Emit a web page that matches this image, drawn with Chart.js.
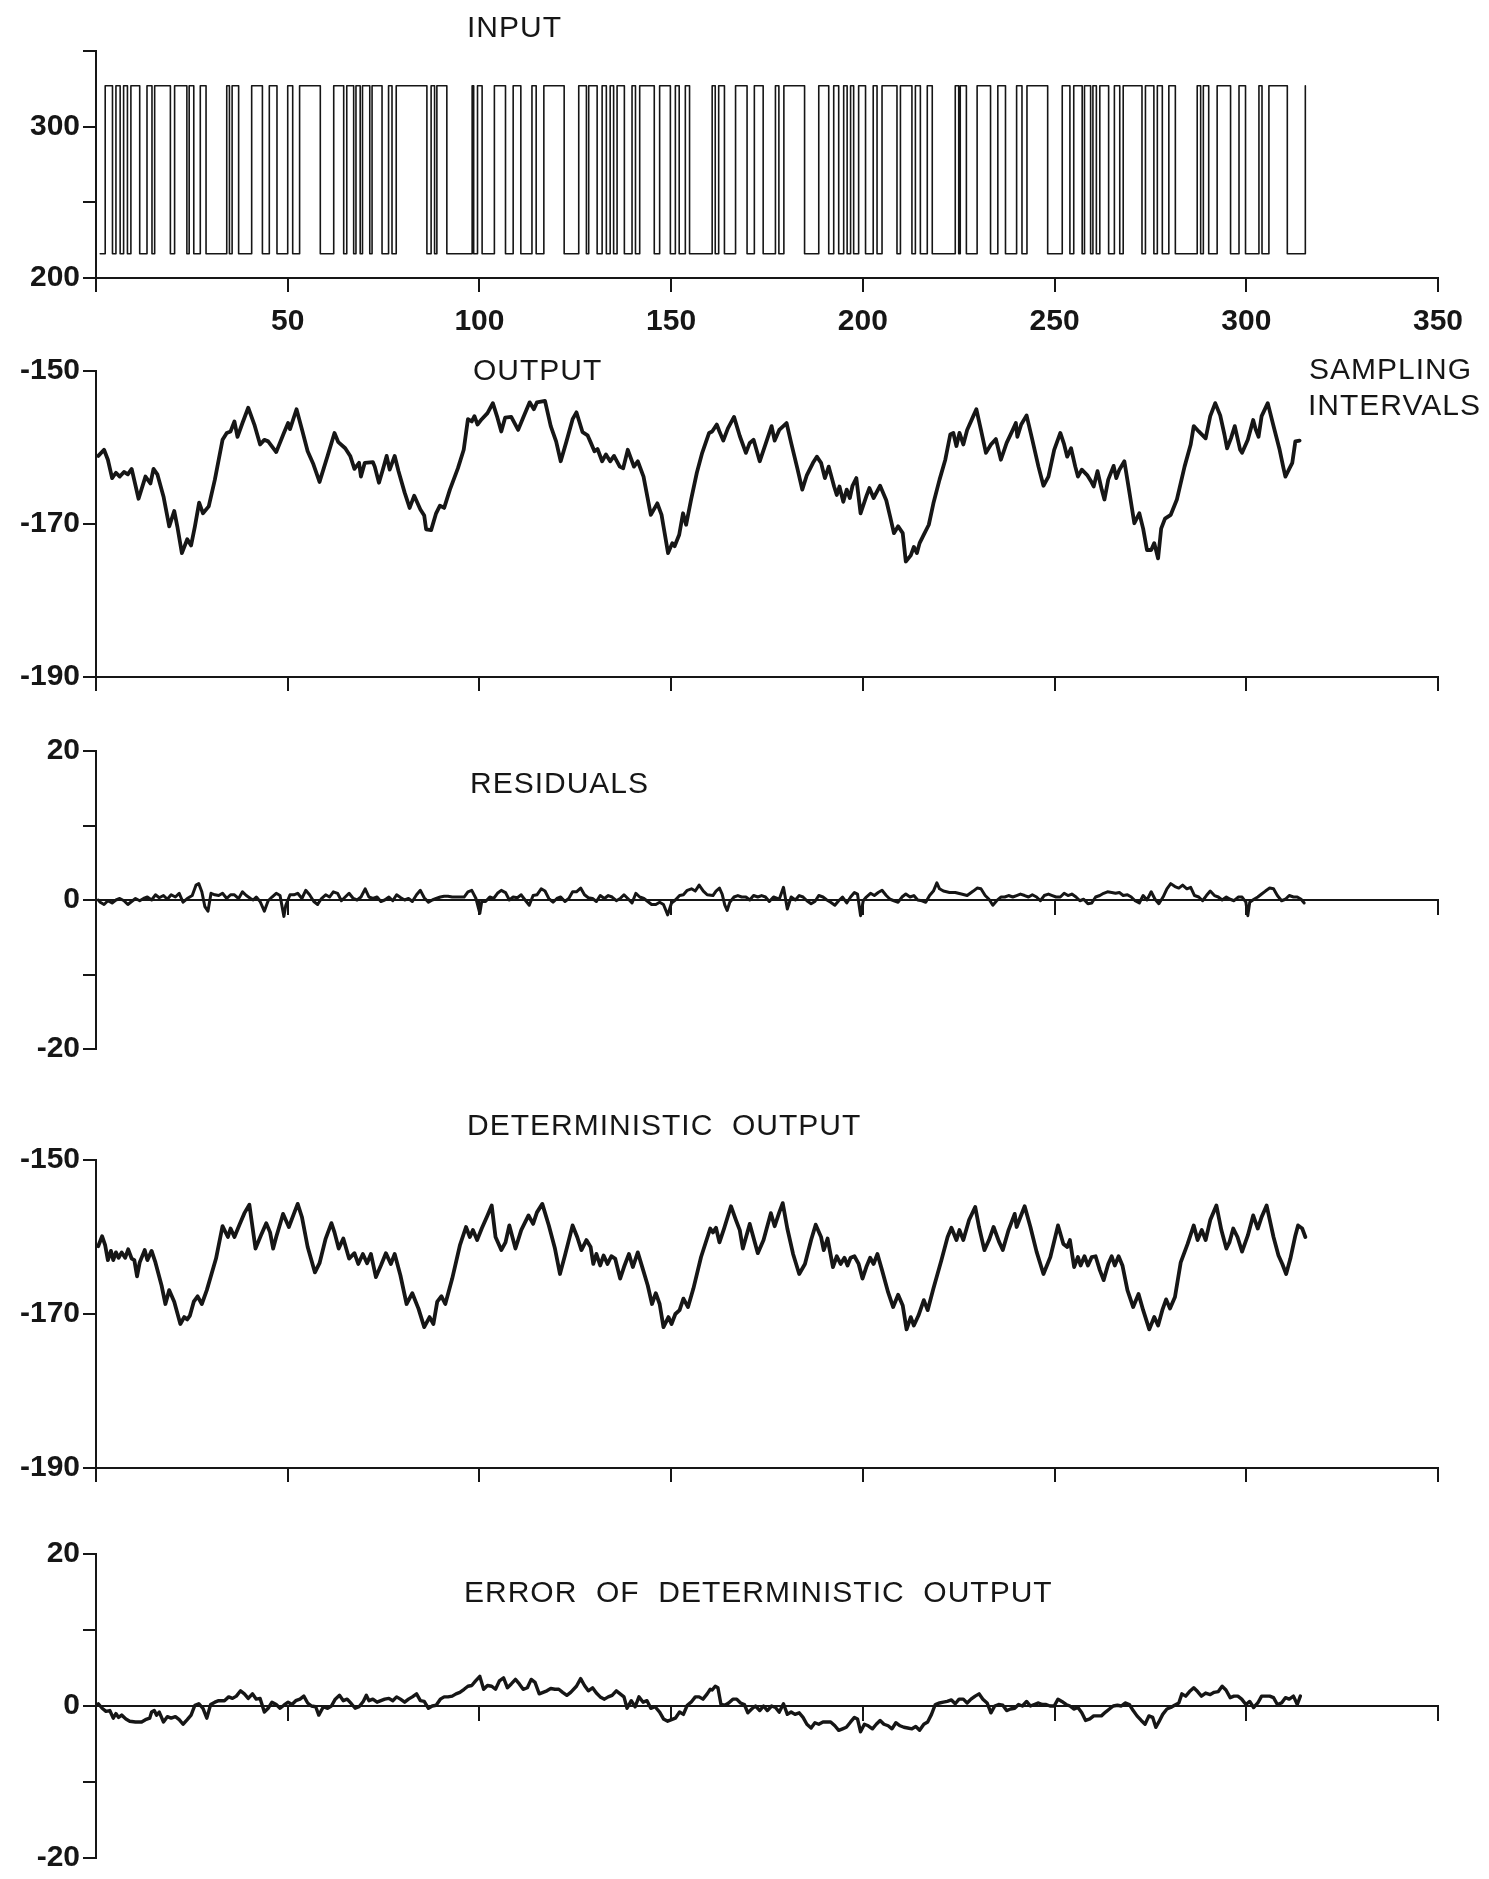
<!DOCTYPE html>
<html>
<head>
<meta charset="utf-8">
<script src="https://cdn.jsdelivr.net/npm/chart.js@4.4.1/dist/chart.umd.min.js"></script>
<style>
  html, body { margin: 0; padding: 0; background: #ffffff; }
  #page { position: relative; width: 1489px; height: 1879px; overflow: hidden;
          font-family: "Liberation Sans", Arial, sans-serif; color: #161616; }
  #page canvas { position: absolute; left: 0; }
  .lbl { position: absolute; font-size: 30px; line-height: 1; letter-spacing: 1px; white-space: pre; }
</style>
</head>
<body>
<div id="page">
  <canvas id="cInput"  width="1489" height="340" style="top:0px"></canvas>
  <canvas id="cOutput" width="1489" height="360" style="top:340px"></canvas>
  <canvas id="cResid"  width="1489" height="370" style="top:700px"></canvas>
  <canvas id="cDet"    width="1489" height="420" style="top:1070px"></canvas>
  <canvas id="cError"  width="1489" height="389" style="top:1490px"></canvas>

  <div class="lbl" style="left:467px; top:12px">INPUT</div>
  <div class="lbl" style="left:473px; top:355px">OUTPUT</div>
  <div class="lbl" style="left:1309px; top:354px">SAMPLING</div>
  <div class="lbl" style="left:1308px; top:390px">INTERVALS</div>
  <div class="lbl" style="left:470px; top:768px">RESIDUALS</div>
  <div class="lbl" style="left:467px; top:1110px">DETERMINISTIC  OUTPUT</div>
  <div class="lbl" style="left:464px; top:1577px">ERROR  OF  DETERMINISTIC  OUTPUT</div>
</div>

<script>
// ---- shared time axis (sampling intervals) ----
const xTickLabels = [50, 100, 150, 200, 250, 300, 350];

// ---- input: two-level test signal, switching times in sampling intervals ----
const inputLow = 216;
const inputHigh = 327;
// first entry starts the signal at the low level; each later entry flips the level
const inputSwitchTimes = [
  1.1, 2.4, 4.3, 5.2, 6.3, 7.2, 8.2, 9.1, 11.4, 13.3, 14.6, 15.3, 19.4, 20.5, 23.7, 24.3,
  25.5, 27.2, 28.7, 34.1, 34.8, 35.5, 37.2, 40.6, 43.4, 45.2, 47.2, 50.0, 51.3, 53.1, 58.5,
  62.0, 64.6, 65.4, 67.2, 67.8, 68.9, 69.5, 71.4, 72.0, 74.6, 76.3, 77.2, 78.3, 86.3, 87.4,
  88.3, 88.9, 91.5, 98.1, 98.5, 99.5, 100.7, 103.9, 106.8, 108.8, 110.8, 113.7, 114.8, 116.8,
  122.1, 125.9, 127.9, 128.5, 130.7, 132.0, 133.1, 134.1, 135.0, 135.9, 137.8, 139.8, 140.7,
  141.8, 145.6, 147.0, 149.8, 151.1, 152.1, 153.7, 154.8, 160.7, 161.5, 162.4, 163.9, 166.8,
  169.8, 171.7, 174.0, 177.2, 178.1, 179.4, 184.8, 188.5, 191.1, 192.4, 193.7, 195.0, 195.9,
  196.8, 197.6, 198.9, 200.7, 202.7, 203.7, 205.0, 208.9, 209.8, 212.8, 213.7, 215.0, 216.8,
  218.1, 224.1, 225.0, 225.4, 227.0, 229.8, 233.3, 235.2, 237.2, 240.1, 241.5, 242.8, 248.2,
  252.0, 254.0, 255.0, 257.2, 257.8, 259.4, 260.0, 260.9, 261.8, 264.1, 265.6, 267.0, 267.9,
  272.8, 273.7, 275.9, 276.8, 278.1, 279.8, 281.5, 287.2, 288.1, 288.8, 290.2, 292.4, 295.9,
  298.1, 299.8, 303.3, 304.1, 305.9, 310.7, 315.4
];

// ---- measured output [interval, value] ----
const outputSeries = [
  [0.6,-161.1],[2.1,-160.3],[3.1,-161.6],[4.2,-164.0],[5.2,-163.3],[6.2,-163.8],[7.3,-163.2],[8.3,-163.5],
  [9.3,-162.8],[11.1,-166.7],[12.9,-163.8],[14.2,-164.7],[15.0,-162.8],[16.0,-163.5],[17.6,-166.4],
  [19.1,-170.3],[20.4,-168.3],[21.2,-170.3],[22.4,-173.8],[23.8,-172.0],[24.8,-172.8],[25.8,-170.3],
  [26.9,-167.2],[27.9,-168.6],[29.4,-167.7],[31.0,-164.2],[33.0,-159.0],[34.1,-158.1],[35.1,-157.9],
  [36.1,-156.6],[36.9,-158.6],[38.2,-156.8],[39.7,-154.8],[41.3,-157.0],[42.8,-159.6],[43.9,-159.0],
  [44.9,-159.2],[47.0,-160.6],[49.0,-158.1],[50.1,-156.8],[50.6,-157.6],[52.3,-155.0],[53.7,-157.6],
  [55.2,-160.5],[56.7,-162.2],[58.3,-164.5],[60.4,-161.1],[62.2,-158.1],[63.2,-159.3],[65.0,-160.1],
  [66.3,-161.1],[67.4,-162.8],[68.6,-162.0],[69.1,-163.8],[70.1,-162.0],[72.2,-161.9],[72.7,-162.5],
  [73.8,-164.6],[74.8,-162.9],[75.8,-161.1],[76.6,-162.9],[77.9,-161.1],[78.9,-163.1],[80.5,-165.9],
  [81.8,-167.9],[83.0,-166.3],[84.6,-168.1],[85.6,-168.9],[86.1,-170.7],[87.4,-170.8],[88.7,-168.6],
  [89.7,-167.6],[90.8,-167.9],[92.3,-165.5],[94.4,-162.7],[95.9,-160.3],[97.0,-156.3],[98.0,-156.6],
  [98.7,-155.9],[99.5,-157.0],[100.6,-156.3],[102.1,-155.5],[103.5,-154.2],[104.7,-156.1],[105.7,-157.9],
  [106.7,-156.1],[108.3,-156.0],[110.1,-157.7],[111.4,-156.1],[113.1,-154.1],[114.2,-155.0],[115.0,-154.1],
  [117.1,-153.9],[118.6,-157.2],[120.0,-159.2],[121.2,-161.8],[122.7,-159.2],[124.3,-156.3],[125.3,-155.4],
  [126.9,-158.0],[128.2,-158.4],[128.9,-159.2],[130.0,-160.5],[130.8,-160.2],[132.0,-161.8],[133.0,-160.9],
  [134.1,-161.8],[135.1,-161.1],[136.6,-162.5],[137.5,-162.7],[138.7,-160.3],[140.3,-162.5],[141.3,-161.8],
  [142.8,-163.8],[144.7,-168.8],[146.4,-167.3],[147.5,-168.8],[148.0,-170.3],[149.2,-173.8],[150.3,-172.5],
  [150.9,-172.9],[152.1,-171.4],[153.1,-168.6],[153.9,-170.1],[155.2,-166.8],[156.7,-163.3],[158.1,-160.7],
  [159.9,-158.1],[160.7,-157.9],[161.9,-157.0],[162.6,-157.9],[163.6,-159.1],[164.8,-157.5],[166.4,-156.0],
  [167.9,-158.5],[169.5,-160.7],[170.5,-159.4],[171.5,-159.0],[173.1,-161.8],[174.6,-159.6],[176.2,-157.2],
  [177.0,-159.1],[178.2,-157.7],[180.1,-156.8],[181.3,-159.4],[182.9,-162.7],[184.2,-165.5],[185.4,-163.6],
  [187.0,-162.0],[188.0,-161.2],[189.1,-162.0],[190.1,-164.0],[191.1,-162.5],[192.5,-165.1],[193.2,-166.2],
  [193.9,-165.1],[194.9,-167.1],[195.8,-165.5],[196.6,-166.6],[197.3,-165.0],[198.3,-164.0],[199.4,-168.6],
  [200.9,-166.4],[201.7,-165.3],[202.8,-166.6],[204.5,-165.0],[206.1,-166.9],[207.1,-169.0],[208.1,-171.2],
  [209.2,-170.3],[210.4,-171.2],[211.2,-174.9],[212.5,-174.1],[213.3,-173.0],[214.1,-173.8],[214.8,-172.5],
  [215.9,-171.4],[217.2,-170.1],[218.4,-167.3],[220.0,-164.2],[221.5,-161.6],[222.8,-158.3],[223.6,-158.1],
  [224.4,-159.8],[225.2,-158.1],[226.2,-159.6],[227.2,-157.7],[228.8,-155.9],[229.6,-155.0],[230.8,-157.7],
  [232.1,-160.7],[233.4,-159.6],[234.7,-158.9],[236.0,-161.6],[237.5,-159.4],[239.1,-157.7],[239.9,-156.8],
  [240.3,-158.6],[241.3,-157.0],[242.7,-155.8],[244.2,-159.0],[245.8,-162.5],[247.1,-165.0],[248.4,-163.8],
  [249.9,-160.3],[251.5,-158.1],[252.5,-159.6],[253.3,-161.2],[254.3,-160.1],[255.4,-162.5],[256.1,-163.8],
  [257.1,-162.9],[258.5,-163.6],[259.5,-164.4],[260.2,-165.1],[261.2,-163.1],[262.3,-165.5],[263.0,-166.8],
  [264.0,-164.2],[265.4,-162.4],[266.1,-164.0],[266.9,-162.9],[268.2,-161.8],[269.5,-165.8],[270.8,-169.9],
  [272.1,-168.6],[273.1,-170.6],[274.1,-173.4],[275.2,-173.4],[276.0,-172.5],[277.0,-174.5],[277.8,-170.6],
  [278.8,-169.3],[280.3,-168.8],[281.9,-166.8],[283.9,-162.5],[285.5,-159.6],[286.3,-157.2],[287.6,-157.9],
  [289.4,-158.8],[290.6,-155.9],[291.9,-154.2],[293.2,-155.8],[294.3,-158.3],[295.0,-160.1],[296.0,-158.8],
  [297.0,-157.2],[298.4,-160.3],[298.9,-160.7],[300.4,-159.0],[301.8,-156.4],[302.5,-157.7],[303.2,-158.6],
  [304.0,-155.9],[305.6,-154.2],[307.1,-157.2],[308.7,-160.3],[309.7,-162.7],[310.2,-163.8],[311.3,-162.7],
  [312.0,-162.0],[312.8,-159.2],[313.9,-159.1]
];

// ---- residuals [interval, value] ----
const residualSeries = [
  [0.6,0.0],[1.1,-0.3],[2.1,-0.6],[3.1,-0.1],[4.2,-0.4],[5.2,0.0],[6.2,0.2],[7.3,-0.1],[8.3,-0.6],
  [9.3,-0.2],[10.3,0.2],[11.4,-0.1],[12.4,0.2],[13.4,0.4],[14.5,0.0],[15.5,0.7],[16.5,0.3],[17.6,0.6],
  [18.6,0.1],[19.6,0.7],[20.7,0.4],[21.7,0.9],[22.7,-0.3],[23.8,0.2],[25.1,0.6],[26.1,2.0],[26.8,2.2],
  [27.6,1.1],[28.4,-0.9],[29.2,-1.5],[30.0,0.9],[31.0,0.7],[32.0,0.6],[33.0,0.9],[34.1,0.2],[35.1,0.7],
  [36.1,0.7],[37.2,0.2],[38.2,1.1],[39.2,0.6],[40.3,0.2],[41.0,0.0],[41.8,0.4],[42.8,-0.2],[43.9,-1.5],
  [44.9,-0.1],[45.9,0.4],[47.0,0.9],[48.0,0.6],[49.0,-2.2],[49.5,-0.7],[50.6,0.7],[51.6,0.7],[52.6,0.9],
  [53.7,0.2],[54.7,1.3],[55.7,0.7],[56.8,-0.2],[57.8,-0.6],[58.8,0.2],[59.9,0.7],[60.9,0.4],[61.9,1.1],
  [63.0,0.9],[64.0,-0.1],[65.0,0.4],[66.0,0.9],[67.1,0.2],[68.1,0.0],[69.1,0.4],[70.2,1.5],[71.2,0.4],
  [72.2,0.2],[73.3,0.4],[74.3,-0.2],[75.3,0.0],[76.4,0.4],[77.4,-0.1],[78.4,0.7],[79.5,0.3],[80.5,0.0],
  [81.5,0.2],[82.5,-0.2],[83.6,0.7],[84.6,1.3],[85.6,0.3],[86.7,-0.3],[87.7,0.0],[88.7,0.2],[89.8,0.4],
  [90.8,0.5],[91.8,0.5],[92.9,0.4],[93.9,0.4],[94.9,0.4],[96.0,0.4],[97.0,1.1],[98.0,1.3],[99.1,0.2],
  [100.1,-1.8],[100.6,-0.2],[101.6,-0.2],[102.7,0.4],[103.7,0.2],[104.7,0.9],[105.7,1.3],[106.8,1.0],
  [107.8,0.0],[108.8,0.4],[109.9,0.3],[110.9,0.7],[111.9,0.0],[113.0,-0.7],[114.0,0.6],[115.0,0.7],
  [116.1,1.5],[117.1,1.2],[118.1,0.2],[119.2,-0.3],[120.2,0.2],[121.2,0.4],[122.3,-0.2],[123.3,0.2],
  [124.3,1.1],[125.3,1.1],[126.4,1.6],[127.4,0.7],[128.4,0.3],[129.5,0.2],[130.5,-0.2],[131.5,0.6],
  [132.6,0.2],[133.6,0.6],[134.6,0.4],[135.7,-0.1],[136.7,0.2],[137.7,0.7],[138.7,0.2],[139.8,-0.4],
  [140.8,0.9],[141.8,0.4],[142.9,0.2],[143.9,-0.2],[144.9,-0.6],[146.0,-0.6],[147.0,-0.3],[148.0,-0.6],
  [149.1,-2.0],[150.1,-0.4],[151.1,0.0],[152.2,0.6],[153.2,0.7],[154.2,1.3],[155.3,1.5],[156.3,1.2],
  [157.3,2.0],[158.4,1.2],[159.4,0.7],[160.9,0.6],[161.7,1.2],[162.6,1.6],[163.3,0.8],[164.0,-0.7],
  [164.6,-1.4],[165.3,-0.3],[166.4,0.4],[167.4,0.6],[168.4,0.4],[169.5,0.4],[170.5,0.0],[171.5,0.6],
  [172.6,0.4],[173.6,0.6],[174.6,0.4],[175.6,-0.2],[176.7,0.4],[178.2,0.1],[179.3,1.7],[180.3,-1.2],
  [181.3,0.4],[182.4,0.0],[183.4,0.6],[184.4,0.4],[185.4,-0.1],[186.5,-0.5],[187.5,-0.2],[188.5,0.6],
  [189.6,0.4],[190.6,0.0],[191.6,-0.3],[192.7,-0.7],[193.7,-0.1],[194.7,0.4],[195.8,-0.4],[196.8,0.4],
  [197.8,1.0],[198.6,0.8],[199.4,-2.1],[200.1,-0.1],[200.9,0.4],[202.0,0.9],[203.0,0.6],[204.0,1.0],
  [205.0,1.3],[206.1,0.6],[207.1,0.1],[208.1,-0.1],[209.2,-0.3],[210.2,0.4],[211.2,0.8],[212.3,0.4],
  [213.3,0.6],[214.3,0.0],[215.4,-0.1],[216.4,-0.3],[217.4,0.6],[218.4,1.2],[219.3,2.3],[220.0,1.5],
  [221.0,1.2],[222.6,1.0],[224.1,1.0],[225.7,0.8],[227.2,0.6],[228.8,1.2],[229.8,1.6],[230.8,1.5],
  [231.9,0.6],[232.9,0.1],[233.9,-0.7],[234.9,-0.1],[236.0,0.4],[237.0,0.4],[238.0,0.6],[239.1,0.4],
  [240.1,0.6],[241.1,0.8],[242.2,0.6],[243.2,0.4],[244.2,0.7],[245.3,0.4],[246.3,-0.1],[247.3,0.6],
  [248.4,0.8],[249.4,0.6],[250.4,0.4],[251.5,0.4],[252.5,0.9],[253.5,0.6],[254.5,0.8],[255.6,0.4],
  [256.6,-0.1],[257.6,0.1],[258.7,-0.5],[259.7,-0.4],[260.7,0.4],[261.8,0.6],[262.8,0.9],[263.8,1.1],
  [264.9,1.0],[265.9,0.9],[266.9,1.0],[267.9,0.6],[269.0,0.7],[270.0,0.4],[271.0,-0.1],[272.1,-0.4],
  [273.1,0.6],[274.1,0.0],[275.2,1.1],[276.2,0.1],[277.2,-0.5],[278.3,0.4],[279.3,1.5],[280.3,2.2],
  [281.4,1.8],[282.4,1.6],[283.4,2.0],[284.5,1.5],[285.5,1.7],[286.5,0.6],[287.6,0.4],[288.6,-0.1],
  [289.6,0.6],[290.6,1.2],[291.7,0.6],[292.7,0.4],[293.7,0.0],[294.8,0.4],[295.8,0.1],[296.8,-0.1],
  [297.9,0.4],[298.9,0.4],[299.9,-0.3],[300.4,-2.1],[300.9,-0.3],[302.0,0.1],[303.0,0.4],[304.0,0.8],
  [305.0,1.2],[306.1,1.6],[307.1,1.5],[308.1,0.6],[309.2,-0.1],[310.2,0.1],[311.2,0.6],[312.3,0.4],
  [313.3,0.4],[314.3,0.1],[315.1,-0.4]
];

// ---- deterministic model output [interval, value] ----
const deterministicSeries = [
  [0.6,-161.2],[0.8,-160.9],[1.6,-159.9],[2.4,-161.1],[3.1,-163.0],[3.9,-161.8],[4.5,-163.0],[5.2,-162.0],
  [5.9,-162.7],[6.7,-162.0],[7.6,-162.7],[8.4,-161.6],[9.3,-162.8],[10.0,-163.0],[10.7,-165.1],[11.4,-163.3],
  [12.7,-161.7],[13.4,-163.0],[14.5,-161.8],[15.5,-163.3],[17.1,-166.3],[18.1,-168.7],[19.1,-166.9],
  [20.4,-168.4],[22.0,-171.3],[23.0,-170.4],[23.8,-170.7],[24.5,-170.2],[25.5,-168.4],[26.5,-167.7],
  [27.6,-168.7],[28.9,-166.9],[31.3,-162.8],[33.0,-158.6],[34.4,-160.0],[35.1,-158.9],[36.1,-160.0],
  [37.5,-158.3],[38.7,-156.9],[40.0,-155.8],[41.6,-161.5],[43.0,-159.8],[44.4,-158.2],[45.4,-159.4],
  [46.2,-161.5],[47.0,-160.0],[48.8,-157.0],[50.3,-158.7],[51.6,-157.0],[52.6,-155.7],[53.7,-157.4],
  [55.2,-161.3],[57.1,-164.6],[58.3,-163.4],[59.9,-160.2],[61.4,-158.2],[62.2,-159.4],[63.3,-161.5],
  [64.5,-160.2],[66.0,-162.8],[67.4,-162.1],[68.4,-163.5],[69.6,-162.2],[70.7,-163.4],[71.7,-162.2],
  [73.0,-165.2],[74.3,-163.7],[75.6,-162.1],[76.9,-163.5],[77.9,-162.2],[79.4,-165.0],[81.0,-168.7],
  [82.5,-167.3],[84.1,-169.3],[85.6,-171.7],[87.0,-170.4],[88.0,-171.3],[89.0,-168.4],[90.1,-167.7],
  [91.1,-168.7],[92.9,-165.4],[94.9,-161.1],[96.5,-158.7],[97.5,-160.0],[98.3,-159.1],[99.4,-160.4],
  [100.6,-158.9],[102.1,-157.2],[103.2,-155.9],[104.2,-160.0],[105.7,-161.7],[106.8,-160.7],[107.8,-158.5],
  [108.6,-160.0],[109.4,-161.5],[110.9,-159.1],[112.8,-157.2],[114.0,-158.3],[115.0,-156.8],[116.4,-155.7],
  [118.1,-158.5],[119.7,-161.5],[121.0,-164.8],[122.3,-162.4],[124.3,-158.5],[125.5,-160.0],[126.6,-161.7],
  [127.9,-160.4],[129.0,-161.3],[129.7,-163.5],[130.5,-162.2],[131.5,-163.7],[132.4,-162.4],[133.4,-163.5],
  [134.4,-162.5],[135.4,-162.8],[136.7,-165.4],[137.7,-163.9],[139.0,-162.2],[140.0,-163.9],[141.3,-162.0],
  [142.7,-164.3],[143.9,-166.3],[145.0,-168.7],[146.0,-167.3],[147.0,-168.7],[148.0,-171.7],[149.3,-170.4],
  [150.1,-171.3],[151.1,-170.0],[152.2,-169.5],[153.2,-168.0],[154.4,-169.1],[155.8,-166.7],[157.8,-162.6],
  [160.2,-158.9],[160.9,-159.4],[161.7,-158.8],[162.6,-160.7],[163.8,-158.9],[165.6,-156.0],[166.9,-157.8],
  [167.9,-159.1],[168.7,-161.5],[170.5,-158.3],[172.6,-162.1],[174.1,-160.4],[176.0,-156.9],[177.0,-158.6],
  [178.2,-156.8],[179.1,-155.6],[180.3,-158.9],[181.8,-162.2],[183.4,-164.8],[184.9,-163.5],[186.5,-160.4],
  [187.7,-158.4],[189.1,-160.0],[189.8,-161.7],[190.8,-160.2],[192.2,-163.9],[193.2,-162.5],[194.2,-163.5],
  [195.2,-162.7],[196.0,-163.7],[196.8,-162.7],[197.8,-162.5],[198.9,-163.5],[199.9,-165.4],[200.9,-163.9],
  [201.9,-162.7],[202.8,-163.5],[203.8,-162.2],[205.0,-164.3],[206.6,-167.2],[207.9,-169.1],[209.2,-167.5],
  [210.4,-168.9],[211.4,-172.0],[212.5,-170.4],[213.3,-171.5],[214.5,-170.2],[215.9,-168.2],[216.9,-169.5],
  [218.4,-166.7],[220.5,-163.0],[222.1,-160.0],[223.1,-158.8],[224.4,-160.4],[225.2,-159.1],[226.2,-160.4],
  [227.7,-157.8],[229.3,-156.1],[230.3,-158.7],[231.7,-161.7],[232.9,-160.4],[234.1,-158.7],[235.5,-160.6],
  [236.5,-161.7],[238.0,-159.1],[239.6,-157.0],[240.1,-158.7],[241.1,-157.4],[242.2,-156.0],[243.7,-158.7],
  [245.3,-161.9],[247.1,-164.8],[248.9,-162.6],[250.9,-158.5],[252.3,-160.9],[253.3,-161.3],[254.0,-160.4],
  [255.1,-163.9],[256.1,-162.6],[256.8,-163.7],[257.8,-162.5],[258.7,-163.7],[259.7,-162.6],[260.7,-162.5],
  [261.8,-164.3],[262.8,-165.6],[264.0,-163.5],[264.9,-162.5],[265.7,-163.7],[266.7,-162.5],[267.7,-163.7],
  [269.0,-166.9],[270.5,-169.1],[271.9,-167.4],[273.1,-169.5],[274.7,-172.0],[276.0,-170.4],[277.0,-171.5],
  [278.1,-169.5],[279.1,-168.1],[280.1,-169.3],[281.4,-167.8],[282.9,-163.3],[284.7,-160.9],[286.3,-158.5],
  [287.3,-160.4],[288.4,-159.1],[289.4,-160.4],[290.6,-157.8],[292.2,-155.9],[293.5,-159.1],[294.8,-161.5],
  [295.6,-160.7],[296.6,-158.9],[297.7,-160.0],[298.9,-161.9],[300.4,-159.8],[301.8,-157.2],[303.0,-158.9],
  [304.0,-157.4],[305.3,-155.9],[307.1,-160.0],[308.4,-162.4],[309.4,-163.5],[310.4,-164.8],[311.5,-162.8],
  [312.8,-159.8],[313.5,-158.5],[314.6,-158.9],[315.4,-160.0]
];

// ---- error of deterministic output [interval, value] ----
const errorSeries = [
  [0.6,0.3],[1.6,-0.3],[2.6,-0.7],[3.6,-0.6],[4.5,-1.6],[5.2,-1.0],[5.9,-1.5],[6.7,-1.2],[7.8,-1.7],
  [8.8,-2.0],[10.3,-2.1],[11.9,-2.1],[12.9,-1.8],[14.0,-1.6],[14.5,-0.8],[15.2,-0.6],[15.8,-1.2],[16.5,-0.8],
  [17.6,-2.1],[18.6,-1.4],[19.6,-1.6],[20.7,-1.4],[21.7,-1.8],[22.7,-2.4],[23.8,-1.8],[24.8,-1.2],[25.8,0.1],
  [26.8,0.3],[27.9,-0.3],[28.9,-1.6],[29.9,0.2],[31.0,0.5],[32.0,0.7],[33.5,0.7],[34.6,1.2],[35.6,1.0],
  [36.6,1.3],[37.7,2.0],[38.7,1.6],[39.7,1.0],[40.8,1.6],[41.8,0.9],[42.8,1.0],[43.9,-0.8],[44.9,-0.3],
  [45.9,0.5],[47.0,0.2],[48.0,-0.3],[49.0,0.1],[50.1,0.5],[51.1,0.2],[52.1,0.7],[53.2,0.9],[54.2,1.3],
  [55.2,0.4],[56.2,0.0],[57.3,-0.1],[58.1,-1.2],[59.3,-0.1],[60.4,-0.3],[61.4,0.0],[62.4,0.9],[63.5,1.4],
  [64.5,0.7],[65.5,0.9],[66.6,0.3],[67.6,-0.3],[68.6,-0.1],[69.7,0.6],[70.5,1.4],[71.2,0.7],[72.2,0.9],
  [73.3,0.5],[74.3,0.7],[75.3,0.9],[76.4,1.0],[77.4,0.7],[78.4,1.2],[79.4,0.9],[80.5,0.5],[81.5,0.9],
  [82.5,1.2],[83.6,1.6],[84.6,0.7],[85.6,0.6],[86.7,-0.3],[87.7,0.0],[88.7,0.1],[89.8,0.9],[90.8,1.2],
  [91.8,1.2],[92.9,1.3],[93.9,1.6],[94.9,1.8],[96.0,2.2],[97.0,2.6],[98.0,2.7],[99.0,3.3],[100.1,3.9],
  [101.1,2.2],[102.1,2.7],[103.2,2.6],[104.2,2.2],[105.2,3.3],[106.3,3.7],[107.3,2.4],[108.3,2.9],[109.4,3.5],
  [110.4,2.9],[111.4,2.2],[112.5,2.4],[113.5,3.5],[114.5,3.1],[115.6,1.6],[116.6,1.8],[117.6,2.0],[118.6,2.3],
  [119.7,2.2],[120.7,2.2],[121.7,1.8],[122.8,1.4],[123.8,1.8],[125.3,2.6],[126.4,3.6],[127.4,2.7],[128.4,2.0],
  [129.5,2.4],[130.5,1.7],[131.5,1.2],[132.6,0.9],[133.6,1.2],[134.6,1.4],[135.7,2.0],[136.7,1.6],[137.7,1.2],
  [138.5,-0.3],[139.6,0.7],[140.6,-0.1],[141.6,1.2],[142.7,0.5],[143.7,0.7],[144.7,-0.3],[145.8,-0.1],
  [147.0,-0.8],[148.0,-1.7],[149.1,-2.0],[150.1,-1.8],[151.1,-1.6],[152.2,-0.8],[153.2,-1.1],[154.2,0.1],
  [155.2,0.5],[156.3,1.2],[157.3,1.2],[158.3,0.9],[159.4,1.6],[160.2,2.2],[160.7,2.1],[161.5,2.6],[162.2,2.4],
  [163.0,0.2],[164.0,0.1],[165.0,0.4],[166.1,0.9],[167.1,0.9],[168.1,0.4],[169.1,0.2],[170.0,-0.9],[171.0,-0.4],
  [172.0,0.0],[173.1,-0.6],[174.1,0.0],[175.1,-0.6],[176.2,0.0],[177.2,-0.2],[178.2,-0.8],[179.3,0.3],
  [180.3,-1.1],[181.3,-0.8],[182.3,-1.1],[183.4,-0.9],[184.4,-1.5],[185.4,-2.4],[186.5,-2.9],[187.5,-2.2],
  [188.5,-2.4],[189.6,-2.1],[190.6,-2.1],[191.6,-2.1],[192.7,-2.6],[193.7,-3.2],[194.7,-3.0],[195.7,-2.8],
  [196.8,-2.1],[197.8,-1.5],[198.6,-1.7],[199.4,-3.4],[200.4,-2.4],[201.4,-2.6],[202.5,-3.0],[203.5,-2.4],
  [204.5,-1.9],[205.5,-2.4],[206.6,-2.6],[207.6,-3.0],[208.6,-2.2],[209.7,-2.6],[210.7,-2.8],[211.7,-2.9],
  [212.8,-3.0],[213.8,-2.7],[214.8,-3.2],[215.9,-2.4],[216.9,-2.1],[217.9,-1.1],[218.9,0.2],[220.0,0.4],
  [221.0,0.5],[222.0,0.6],[223.1,0.8],[224.1,0.3],[225.1,0.9],[226.2,0.9],[227.2,0.4],[228.2,0.9],[229.3,1.3],
  [230.3,1.6],[231.3,0.9],[232.4,0.4],[233.4,-0.9],[234.4,0.0],[235.4,0.2],[236.5,0.1],[237.5,-0.6],
  [238.5,-0.4],[239.6,-0.3],[240.6,0.2],[241.6,0.0],[242.7,0.6],[243.7,0.0],[244.7,0.2],[245.8,0.4],
  [246.8,0.2],[247.8,0.2],[248.8,0.0],[249.9,0.0],[250.9,0.9],[251.9,0.6],[253.0,0.2],[254.0,0.0],[255.0,-0.4],
  [256.1,-0.2],[257.1,-0.9],[258.1,-1.9],[259.2,-1.7],[260.2,-1.3],[261.2,-1.3],[262.2,-1.3],[263.3,-0.8],
  [264.3,-0.4],[265.3,0.0],[266.4,0.1],[267.4,0.0],[268.4,0.4],[269.5,0.2],[270.5,-0.6],[271.5,-1.3],
  [272.6,-1.9],[273.6,-2.4],[274.6,-1.3],[275.6,-1.5],[276.4,-2.8],[277.2,-2.1],[278.2,-1.1],[279.3,-0.4],
  [280.3,-0.2],[281.3,0.1],[282.4,0.4],[283.2,1.6],[284.2,1.3],[285.2,1.9],[286.3,2.4],[287.3,1.9],[288.3,1.3],
  [289.4,1.7],[290.6,1.5],[291.6,1.8],[292.7,1.9],[293.7,2.6],[294.7,2.1],[295.8,1.1],[296.8,1.3],[297.8,1.3],
  [298.8,0.9],[299.9,0.2],[300.9,0.6],[301.9,-0.2],[303.0,0.4],[304.0,1.3],[305.0,1.3],[306.1,1.3],[307.1,1.1],
  [308.1,0.2],[309.2,0.4],[310.2,1.1],[311.2,0.9],[312.3,1.3],[313.3,0.2],[314.1,1.3]
];

// ---- y-axis tick labels per panel ----
const inputYLabels = [200, 300];
const outputYLabels = [-150, -170, -190];
const residualYLabels = [-20, 0, 20];
const deterministicYLabels = [-150, -170, -190];
const errorYLabels = [-20, 0, 20];

// ---- drawing ----
const INK = '#161616';
const TICK_FONT = { family: '"Liberation Sans", Arial, sans-serif', size: 30, weight: 'bold' };

function toPoints(series) {
  return series.map(([x, y]) => ({ x, y }));
}

function stepPoints(times, low, high) {
  return times.map((t, i) => ({ x: t, y: i % 2 === 0 ? low : high }));
}

function makePanel(id, p) {
  return new Chart(document.getElementById(id), {
    type: 'line',
    data: {
      datasets: [{
        data: p.points,
        borderColor: INK,
        borderWidth: p.lineWidth,
        pointRadius: 0,
        tension: 0,
        fill: false,
        stepped: p.stepped || false,
        borderJoinStyle: 'round',
        borderCapStyle: 'round'
      }]
    },
    options: {
      responsive: false,
      animation: false,
      devicePixelRatio: 1,
      events: [],
      layout: { padding: { top: p.padTop, bottom: p.padBottom, left: 0, right: 51 } },
      plugins: { legend: { display: false }, tooltip: { enabled: false } },
      scales: {
        x: {
          type: 'linear', min: 0, max: 350,
          position: p.xAtZero ? { y: 0 } : 'bottom',
          ticks: {
            stepSize: 50, autoSkip: false, maxRotation: 0,
            display: !!p.xLabels,
            padding: 12, color: INK, font: TICK_FONT,
            callback: v => (p.xLabels && xTickLabels.includes(v)) ? String(v) : ''
          },
          grid: { display: true, drawOnChartArea: false, drawTicks: true, tickLength: 14, color: INK, lineWidth: 2 },
          border: { display: true, color: INK, width: 2 },
          afterFit: s => { if (!p.xAtZero) s.height = p.xHeight; }
        },
        y: {
          type: 'linear', min: p.yMin, max: p.yMax, position: 'left',
          ticks: {
            stepSize: p.yStep, autoSkip: false, padding: 3, color: INK, font: TICK_FONT,
            callback: v => p.yLabels.includes(v) ? String(v) : ''
          },
          grid: { display: true, drawOnChartArea: false, drawTicks: true, tickLength: 13, color: INK, lineWidth: 2 },
          border: { display: true, color: INK, width: 2 },
          afterFit: s => { s.width = 96; }
        }
      }
    }
  });
}

makePanel('cInput', {
  points: stepPoints(inputSwitchTimes, inputLow, inputHigh), stepped: true, lineWidth: 1.6,
  yMin: 200, yMax: 350, yStep: 50, yLabels: inputYLabels,
  padTop: 51, padBottom: 0, xHeight: 62, xLabels: true
});
makePanel('cOutput', {
  points: toPoints(outputSeries), lineWidth: 3.8,
  yMin: -190, yMax: -150, yStep: 20, yLabels: outputYLabels,
  padTop: 31, padBottom: 0, xHeight: 23
});
makePanel('cResid', {
  points: toPoints(residualSeries), lineWidth: 3.0,
  yMin: -20, yMax: 20, yStep: 10, yLabels: residualYLabels,
  padTop: 51, padBottom: 16, xAtZero: true
});
makePanel('cDet', {
  points: toPoints(deterministicSeries), lineWidth: 3.8,
  yMin: -190, yMax: -150, yStep: 20, yLabels: deterministicYLabels,
  padTop: 90, padBottom: 0, xHeight: 22
});
makePanel('cError', {
  points: toPoints(errorSeries), lineWidth: 3.4,
  yMin: -20, yMax: 20, yStep: 10, yLabels: errorYLabels,
  padTop: 64, padBottom: 15, xAtZero: true
});
</script>
</body>
</html>
